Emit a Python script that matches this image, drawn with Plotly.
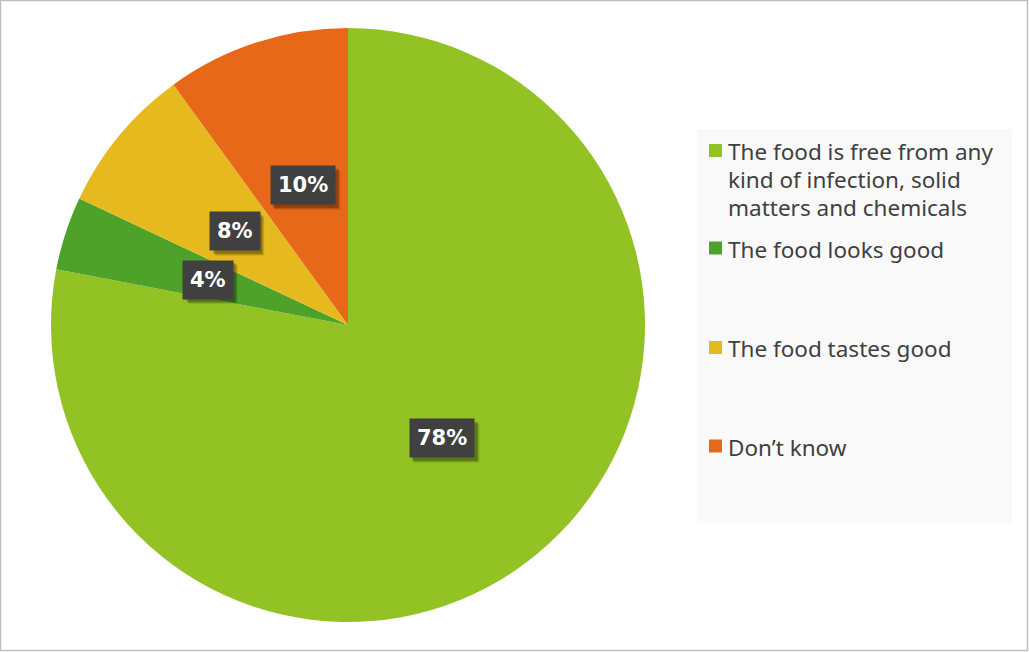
import math
import plotly.graph_objects as go

# Survey answers and their shares (percent)
categories = [
    "The food is free from any kind of infection, solid matters and chemicals",
    "The food looks good",
    "The food tastes good",
    "Don’t know",
]
legend_lines = [
    ["The food is free from any", "kind of infection, solid", "matters and chemicals"],
    ["The food looks good"],
    ["The food tastes good"],
    ["Don’t know"],
]
shares = [78, 4, 8, 10]
colors = ["#93C225", "#4EA22A", "#E6B91E", "#E8681A"]

W, H = 1029, 652
# pie geometry in pixels
cx, cy, R = 348, 325, 297


def px(x):
    return x / W


def py(y):
    return 1 - y / H


fig = go.Figure(
    go.Pie(
        labels=categories,
        values=shares,
        sort=False,
        direction="clockwise",
        rotation=0,
        marker=dict(colors=colors, line=dict(width=0)),
        textinfo="none",
        hoverinfo="label+percent",
        showlegend=False,
        domain=dict(x=[px(cx - R), px(cx + R)], y=[py(cy + R), py(cy - R)]),
    )
)

annotations = []
shapes = []

# percentage labels at the middle of each slice, on dark boxes with a soft shadow
total = sum(shares)
cum = 0
for v in shares:
    mid = (cum + v / 2) / total * 2 * math.pi
    cum += v
    lx = cx + 0.495 * R * math.sin(mid)
    ly = cy - 0.495 * R * math.cos(mid)
    label = f"{round(v / total * 100)}%"
    bw = 16 + 16.5 * len(label)
    bh = 39
    for off, alpha in ((5, 0.10), (4, 0.14), (3, 0.20)):
        shapes.append(dict(
            type="rect", xref="paper", yref="paper",
            x0=px(lx - bw / 2 + off), x1=px(lx + bw / 2 + off),
            y0=py(ly + bh / 2 + off), y1=py(ly - bh / 2 + off),
            fillcolor=f"rgba(0,0,0,{alpha})", line=dict(width=0), layer="above",
        ))
    annotations.append(dict(
        x=px(lx), y=py(ly), xref="paper", yref="paper",
        xanchor="center", yanchor="middle",
        text=f"<b>{label}</b>", showarrow=False,
        font=dict(family="DejaVu Sans", size=21, color="#FFFFFF"),
        bgcolor="#404040", borderpad=7,
    ))

# legend panel
shapes.append(dict(type="rect", xref="paper", yref="paper",
                   x0=px(697), x1=px(1012), y0=py(523), y1=py(129),
                   fillcolor="#F9F9F9", line=dict(width=0), layer="below"))
legend_y = [150.5, 248, 347.5, 446]
line_h = 27.8
for lines, col, y in zip(legend_lines, colors, legend_y):
    shapes.append(dict(type="rect", xref="paper", yref="paper",
                       x0=px(709), x1=px(722), y0=py(y + 6.5), y1=py(y - 6.5),
                       fillcolor=col, line=dict(width=0)))
    for i, line in enumerate(lines):
        annotations.append(dict(
            x=px(726), y=py(y + 1 + i * line_h), xref="paper", yref="paper",
            xanchor="left", yanchor="middle", align="left",
            text=line, showarrow=False,
            font=dict(family="Noto Sans", size=22.5, color="#404040"),
        ))

# outer frame
shapes.append(dict(type="rect", xref="paper", yref="paper",
                   x0=px(0.5), x1=px(W - 1.5), y0=py(H - 1.5), y1=py(0.5),
                   line=dict(color="#BFBFBF", width=1.5)))

fig.update_layout(
    width=W, height=H,
    margin=dict(l=0, r=0, t=0, b=0),
    paper_bgcolor="#FFFFFF",
    plot_bgcolor="#FFFFFF",
    annotations=annotations,
    shapes=shapes,
)

fig.write_html("out.html")
